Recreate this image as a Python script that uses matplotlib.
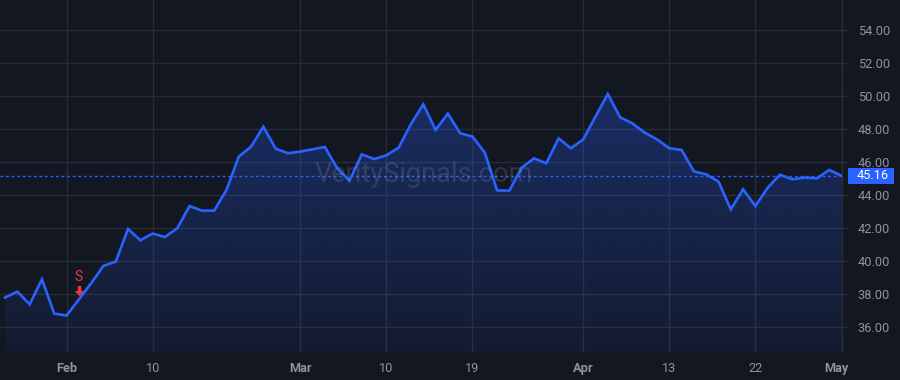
import matplotlib
matplotlib.use("Agg")
import matplotlib.pyplot as plt
import numpy as np
from matplotlib.patches import Polygon, Rectangle
from matplotlib.path import Path
from matplotlib.colors import to_rgb
import matplotlib.transforms as mtransforms

# ---- data ----
prices = [37.78, 38.14, 37.37, 38.89, 36.81, 36.69, 37.66, 38.65, 39.70, 39.96,
          41.94, 41.25, 41.66, 41.45, 41.98, 43.33, 43.05, 43.05, 44.30, 46.32,
          46.93, 48.14, 46.81, 46.53, 46.63, 46.77, 46.91, 45.62, 44.87, 46.46,
          46.18, 46.40, 46.87, 48.30, 49.50, 47.94, 48.93, 47.74, 47.54, 46.57,
          44.28, 44.26, 45.66, 46.22, 45.92, 47.43, 46.83, 47.37, 48.75, 50.12,
          48.71, 48.34, 47.78, 47.37, 46.83, 46.73, 45.43, 45.25, 44.81, 43.13,
          44.34, 43.33, 44.44, 45.23, 44.95, 45.05, 45.01, 45.52, 45.16]
x_tick_idx = [5, 12, 24, 31, 38, 47, 54, 61, 68]
x_tick_labels = ["Feb", "10", "Mar", "10", "19", "Apr", "13", "22", "May"]
month_labels = ["Feb", "Mar", "Apr", "May"]
y_ticks = [36, 38, 40, 42, 44, 46, 48, 50, 52, 54]
last_price = 45.16
signal_idx = 6
signal_text = "S"
watermark = "VeritySignals.com"

# ---- style ----
BG = "#131722"
GRID = "#282c38"
TXT = "#8f929b"
BLUE = "#2962ff"
RED = "#f23645"
FONT = "Roboto"
FS = 9.2
plt.rcParams["font.family"] = [FONT, "DejaVu Sans"]

W, H = 900, 380
fig = plt.figure(figsize=(9, 3.8), dpi=100, facecolor=BG)
ax = fig.add_axes([0, 28 / H, 842 / W, 352 / H])
ax.set_facecolor(BG)

x = np.arange(len(prices))
y = np.array(prices)
xmin, xmax = -0.41, 68.04
ymin, ymax = 34.48, 55.82

# gradient fill under the line
rgba = np.zeros((256, 1, 4))
rgba[..., :3] = to_rgb(BLUE)
rgba[..., 3] = np.linspace(0.30, 0.06, 256)[:, None]
im = ax.imshow(rgba, extent=[xmin, xmax, ymin, y.max()], aspect="auto",
               origin="upper", zorder=1, interpolation="bilinear")
poly = Polygon(np.column_stack([np.r_[x[0], x, x[-1]], np.r_[ymin, y, ymin]]),
               closed=True, facecolor="none", edgecolor="none",
               transform=ax.transData)
ax.add_patch(poly)
im.set_clip_path(poly)

ax.plot(x, y, color=BLUE, lw=1.9, zorder=3, solid_joinstyle="miter")
ax.axhline(last_price, color=BLUE, lw=1.0, ls=(0, (2, 2)), zorder=2)

ax.set_xlim(xmin, xmax)
ax.set_ylim(ymin, ymax)

# grid and axes
ax.grid(True, color=GRID, lw=1, zorder=0)
ax.set_axisbelow(True)
for s in ["left", "top", "bottom"]:
    ax.spines[s].set_visible(False)
ax.spines["right"].set_color(GRID)
ax.spines["right"].set_linewidth(1)

ax.yaxis.tick_right()
ax.set_yticks(y_ticks)
ax.set_yticklabels([f"{v:.2f}" for v in y_ticks])
ax.tick_params(axis="y", length=4.3, width=1, color=GRID, pad=7,
               labelsize=FS, labelcolor=TXT)

ax.set_xticks(x_tick_idx)
ax.set_xticklabels(x_tick_labels)
ax.tick_params(axis="x", length=0, pad=7, labelsize=FS, labelcolor=TXT)
for lab in ax.get_xticklabels():
    if lab.get_text() in month_labels:
        lab.set_fontweight("bold")
    if lab.get_text() == x_tick_labels[-1]:
        lab.set_horizontalalignment("right")
        lab.set_transform(lab.get_transform() +
                          mtransforms.ScaledTranslation(7 / 100, 0, fig.dpi_scale_trans))

# last price label
btr = mtransforms.blended_transform_factory(ax.transAxes, ax.transData)
bh = 16 / 16.5
ax.add_patch(Rectangle((848 / 842, last_price - bh / 2), 46 / 842, bh,
                       transform=btr, facecolor=BLUE, edgecolor="none",
                       clip_on=False, zorder=5))
ax.text(872.5 / 842, last_price, f"{last_price:.2f}", transform=btr,
        ha="center", va="center", color="white", fontsize=FS, zorder=6,
        clip_on=False)

# watermark
fig.text(424 / W, 1 - 174 / H, watermark, ha="center", va="center",
         fontsize=19.5, color="#9598a1", alpha=0.22, zorder=2)

# signal marker (down arrow + S)
verts = [(0, 4.5), (-4.8, 9.5), (-1.7, 9.5), (-1.7, 14.5), (1.7, 14.5), (1.7, 9.5),
         (4.8, 9.5), (0, 4.5)]
codes = [Path.MOVETO] + [Path.LINETO] * 6 + [Path.CLOSEPOLY]
arrow = Path(verts, codes)
ax.plot([signal_idx], [prices[signal_idx]], marker=arrow, markersize=14.5 * 0.72 * 2,
        color=RED, markeredgewidth=0, linestyle="none", zorder=6)
ax.annotate(signal_text, xy=(signal_idx, prices[signal_idx]),
            xytext=(0, 23 * 0.72), textcoords="offset points",
            ha="center", va="center", color=RED, fontsize=10, zorder=6)

fig.savefig("out.png", dpi=100, facecolor=BG)
